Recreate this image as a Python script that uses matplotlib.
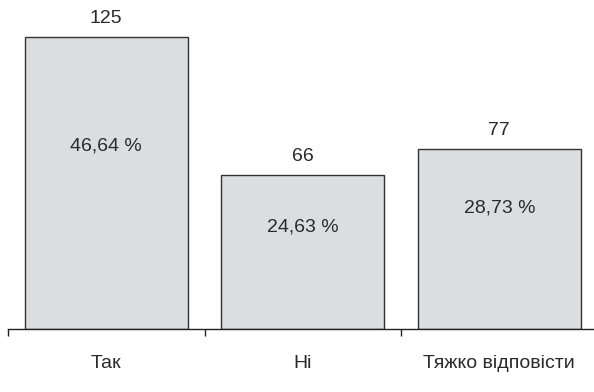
import matplotlib
matplotlib.use("Agg")
import matplotlib.pyplot as plt
from matplotlib.ticker import FixedLocator

plt.rcParams['font.family'] = ['Liberation Sans', 'DejaVu Sans']

categories = ["Так", "Ні", "Тяжко відповісти"]
counts = [125, 66, 77]
percent_labels = ["46,64 %", "24,63 %", "28,73 %"]

fig = plt.figure(figsize=(5.94, 3.92), dpi=100)
ax = fig.add_axes([8 / 594, 63 / 392, 589.5 / 594, 327 / 392])

x = list(range(len(categories)))
bars = ax.bar(x, counts, width=0.832, color="#dcdddf", edgecolor="#333333",
              linewidth=1.0, zorder=2)

ax.set_xlim(-0.5, len(categories) - 0.5)
ax.set_ylim(0, 140)

for spine in ("top", "right", "left"):
    ax.spines[spine].set_visible(False)
ax.spines["bottom"].set_color("#222222")
ax.spines["bottom"].set_linewidth(1.0)
ax.set_yticks([])

ax.set_xticks(x)
ax.set_xticklabels(categories, fontsize=14, color="#2a2a2a")
ax.tick_params(axis="x", which="major", length=0, pad=19)
ax.xaxis.set_minor_locator(FixedLocator([i - 0.5 for i in range(len(categories) + 1)]))
ax.tick_params(axis="x", which="minor", direction="out", length=5, width=1.0,
               color="#222222")

# count above each bar, share of total inside it
inner_frac = [0.628, 0.661, 0.673]
for rect, n, pct, f in zip(bars, counts, percent_labels, inner_frac):
    cx = rect.get_x() + rect.get_width() / 2
    ax.annotate(str(n), (cx, n), xytext=(0, 7), textcoords="offset points",
                ha="center", va="bottom", fontsize=14, color="#2a2a2a")
    ax.text(cx, n * f, pct, ha="center", va="center", fontsize=14,
            color="#2a2a2a")

fig.savefig("out.png", dpi=100)
